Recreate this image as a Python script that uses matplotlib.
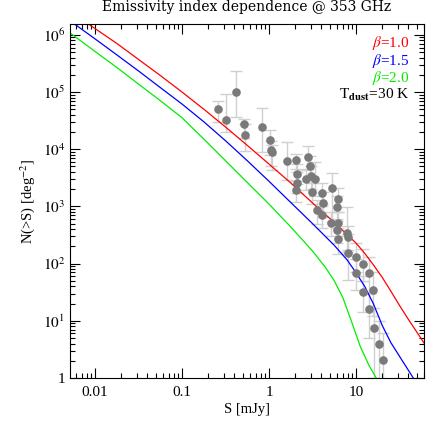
import math
import matplotlib
matplotlib.use('Agg')
import matplotlib.pyplot as plt
from matplotlib.ticker import LogLocator, FuncFormatter, NullFormatter

plt.rcParams['font.family'] = ['Liberation Serif', 'DejaVu Serif']
plt.rcParams['mathtext.fontset'] = 'stix'

# model curves: N(>S) for three emissivity indices
s_b10 = [0.00501, 0.01, 0.0178, 0.0316, 0.0562, 0.1, 0.178, 0.316, 0.562, 1.0, 1.78, 3.16,
         5.62, 10.0, 12.6, 15.8, 20.0, 25.1, 31.6, 39.8, 50.1, 63.1]
n_b10 = [2.63e6, 1.29e6, 7.08e5, 3.72e5, 1.95e5, 1.0e5, 5.01e4, 2.45e4, 1.17e4, 5.5e3, 2.57e3,
         1.15e3, 525, 229, 151, 95.5, 57.5, 33.1, 18.6, 10.7, 6.31, 3.72]

s_b15 = [0.00501, 0.01, 0.0178, 0.0316, 0.0562, 0.1, 0.178, 0.316, 0.562, 1.0, 1.78, 3.16,
         5.62, 7.94, 10.0, 12.6, 15.8, 20.0, 25.1, 31.6, 39.8, 50.1, 63.1]
n_b15 = [1.82e6, 8.51e5, 4.47e5, 2.34e5, 1.20e5, 6.17e4, 3.02e4, 1.41e4, 6.31e3, 2.75e3, 1.17e3,
         501, 209, 115, 69.2, 39.8, 20.0, 8.32, 4.17, 2.40, 1.38, 0.794, 0.447]

s_b20 = [0.00501, 0.01, 0.0178, 0.0316, 0.0562, 0.1, 0.178, 0.316, 0.562, 1.0, 1.78, 3.16,
         4.47, 5.62, 7.08, 8.91, 11.2, 14.1, 17.8, 22.4]
n_b20 = [1.12e6, 5.13e5, 2.69e5, 1.38e5, 7.08e4, 3.55e4, 1.51e4, 6.31e3, 2.63e3, 1.10e3, 437,
         166, 85.1, 50.1, 25.1, 9.55, 3.55, 1.66, 0.891, 0.501]

# measured counts with error ranges
obs_s = [0.26, 0.32, 0.42, 0.52, 0.53, 0.83, 1.03, 1.05, 1.08, 1.61, 2.04, 2.1, 2.1, 2.04,
         2.8, 2.96, 3.04, 2.66, 3.38, 3.12, 4.06, 5.3, 4.18, 3.56, 4.06, 6.2, 6.05, 5.2, 6.2,
         6.05, 6.2, 7.9, 8.1, 8.1, 10.0, 12.0, 10.0, 14.1, 12.0, 15.7, 14.1, 16.1, 18.4, 20.4]
obs_n = [5.0e4, 3.2e4, 1.0e5, 2.8e4, 1.8e4, 2.45e4, 1.45e4, 9.8e3, 8.9e3, 6.3e3, 6.5e3, 3.7e3,
         2.6e3, 1.9e3, 7.4e3, 5.1e3, 3.4e3, 3.0e3, 3.0e3, 1.8e3, 1.73e3, 2.1e3, 1.16e3, 870,
         715, 1.36e3, 985, 515, 515, 390, 272, 346, 295, 155, 132, 100, 69, 69, 32, 34, 16.3,
         7.6, 4.0, 2.1]
obs_lo = [3.0e4, 2.0e4, 3.7e4, 1.6e4, 9.3e3, 9.0e3, 8e3, 5.0e3, 4.4e3, 2.9e3, 4.5e3, 2.5e3,
          1.7e3, 1.2e3, 4.5e3, 3.0e3, 2.0e3, 1.9e3, 1.5e3, 1.1e3, 1.0e3, 530, 650, 500, 420,
          800, 550, 300, 300, 230, 150, 160, 170, 51, 70, 50, 35, 30, 14, 12, 5, 1.0, 0.8, 0.5]
obs_hi = [6.9e4, 9.2e4, 2.3e5, 3.4e4, 2.8e4, 5.2e4, 2.2e4, 1.4e4, 1.2e4, 1.35e4, 8.3e3, 5.5e3,
          4.0e3, 2.8e3, 1.15e4, 7.5e3, 5.0e3, 4.4e3, 6.0e3, 2.6e3, 2.6e3, 3.9e3, 1.8e3, 1.3e3,
          1.1e3, 2.1e3, 1.5e3, 800, 800, 600, 420, 980, 450, 330, 230, 180, 120, 130, 60, 70,
          32, 17, 10, 6]

fig = plt.figure(figsize=(4.47, 4.47), dpi=100)
ax = fig.add_axes([0.1566, 0.1544, 0.792, 0.792])

yerr = [[n - lo for n, lo in zip(obs_n, obs_lo)], [hi - n for n, hi in zip(obs_n, obs_hi)]]
ax.errorbar(obs_s, obs_n, yerr=yerr, fmt='none', ecolor='#d0d0d0', elinewidth=1.0,
            capsize=4, capthick=1.0, zorder=1)

ax.plot(s_b10, n_b10, color='#ff0000', lw=0.9, zorder=2)
ax.plot(s_b15, n_b15, color='#0000ff', lw=0.9, zorder=2)
ax.plot(s_b20, n_b20, color='#00ee00', lw=0.9, zorder=2)

ax.plot(obs_s, obs_n, 'o', color='#7a7a7a', ms=6.2, mec='none', zorder=3)

ax.set_xscale('log')
ax.set_yscale('log')
ax.set_xlim(0.00516, 60.5)
ax.set_ylim(1, 1.55e6)

ax.xaxis.set_major_locator(LogLocator(base=10, numticks=20))
ax.xaxis.set_minor_locator(LogLocator(base=10, subs=range(2, 10), numticks=50))
ax.yaxis.set_major_locator(LogLocator(base=10, numticks=20))
ax.yaxis.set_minor_locator(LogLocator(base=10, subs=range(2, 10), numticks=50))
ax.xaxis.set_minor_formatter(NullFormatter())
ax.yaxis.set_minor_formatter(NullFormatter())
ax.xaxis.set_major_formatter(FuncFormatter(lambda v, p: '%g' % v))
ax.yaxis.set_major_formatter(FuncFormatter(
    lambda v, p: '1' if v == 1 else r'$10^{%d}$' % round(math.log10(v))))

ax.tick_params(which='both', direction='in', top=True, right=True, labelsize=11)
ax.tick_params(which='major', length=7, width=0.8)
ax.tick_params(which='minor', length=3.5, width=0.8)
ax.tick_params(axis='x', pad=6)

ax.set_xlabel('S [mJy]', fontsize=10.5, labelpad=3)
ax.set_ylabel(r'N(>S) [deg$^{-2}$]', fontsize=10.5, labelpad=4)
ax.set_title('Emissivity index dependence @ 353 GHz', fontsize=10,
             family='DejaVu Serif', pad=9)

ax.text(0.96, 0.946, r'$\beta$=1.0', color='#ff0000', fontsize=11, ha='right', va='center', transform=ax.transAxes)
ax.text(0.96, 0.895, r'$\beta$=1.5', color='#0000ff', fontsize=11, ha='right', va='center', transform=ax.transAxes)
ax.text(0.96, 0.848, r'$\beta$=2.0', color='#00ee00', fontsize=11, ha='right', va='center', transform=ax.transAxes)
ax.text(0.96, 0.800, r'T$_{\mathbf{dust}}$=30 K', color='black', fontsize=11, ha='right', va='center', transform=ax.transAxes)

plt.savefig('out.png', dpi=100)
